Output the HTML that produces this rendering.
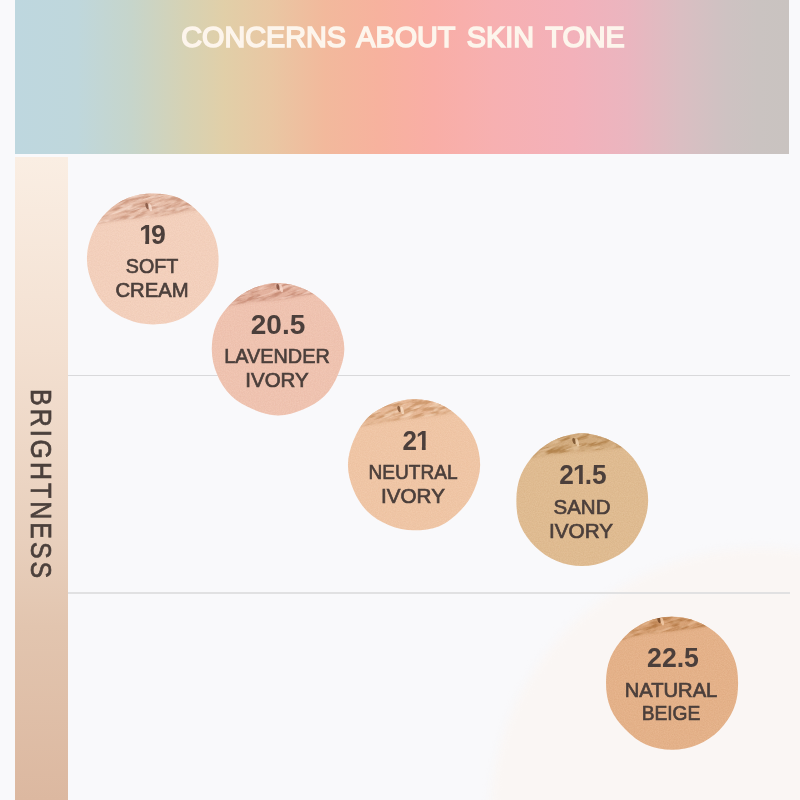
<!DOCTYPE html>
<html lang="en">
<head>
<meta charset="utf-8">
<title>Concerns about skin tone</title>
<style>
html,body{margin:0;padding:0;}
body{width:800px;height:800px;position:relative;overflow:hidden;background:#f9f9fb;font-family:"Liberation Sans",sans-serif;color:#4b3f3b;}
.blob{position:absolute;left:490px;top:548px;width:542px;height:542px;border-radius:50%;background:#faf6f4;filter:blur(4px);}
.banner{position:absolute;left:15px;top:0;width:774px;height:154px;
 background:linear-gradient(90deg,#bed7df 0%,#bfd7dc 8%,#c6d5cb 15%,#d6d2b4 22%,#e1cfa8 27%,#e9c7a3 33%,#f2b99c 40%,#f7b29e 47%,#f9aea6 54%,#f7b0b1 62%,#f3b1ba 72%,#ebb5bf 79%,#dabec2 86%,#cec2c2 92%,#cac3c1 96%,#c9c3c0 100%);}
.title{position:absolute;left:0.5px;top:22px;width:100%;text-align:center;font-size:30px;line-height:30px;font-weight:400;color:#fdf5ec;-webkit-text-stroke:1.6px #fdf5ec;word-spacing:4px;white-space:nowrap;transform:scaleX(0.96);}
.side{position:absolute;left:15px;top:157px;width:53px;height:643px;background:linear-gradient(180deg,#faeee3 0%,#f3e0d1 30%,#e8cfbc 60%,#e2c5af 73%,#dcb8a0 100%);}
.side span{position:absolute;display:block;left:40px;top:231.5px;font-size:29px;line-height:29px;letter-spacing:3.5px;white-space:nowrap;color:#4b403c;-webkit-text-stroke:0.7px #4b403c;transform-origin:0 0;transform:rotate(90deg) scaleX(0.86);}
.line{position:absolute;left:68px;width:722px;height:1px;background:#d9d9db;}
.sw{position:absolute;display:block;overflow:visible;}
.x{position:absolute;display:block;white-space:nowrap;text-align:center;transform-origin:50% 50%;}
.n{font-weight:700;font-size:27px;line-height:27px;}
.o{display:inline-block;font-weight:inherit;font-style:normal;margin:0 -3px 0 -1px;clip-path:polygon(0 0,100% 0,100% 69%,67% 69%,67% 100%,41% 100%,41% 69%,0 69%);}
.t{font-weight:400;font-size:19.5px;line-height:19.5px;-webkit-text-stroke:0.65px #4b3f3b;}
</style>
</head>
<body>
<div class="blob"></div>
<div class="banner"><div class="title">CONCERNS ABOUT SKIN TONE</div></div>
<div class="side"><span>BRIGHTNESS</span></div>
<div class="line" style="top:375px"></div>
<div class="line" style="top:592px;height:2px;background:#e1e1e2"></div>
<svg class="sw" style="left:78.0px;top:184.0px" width="150" height="150" viewBox="-75.0 -75.0 150 150" aria-hidden="true"><defs><clipPath id="cp1"><path d="M65.57 0.00C65.57 8.61 64.74 17.37 61.40 25.43C58.06 33.49 52.36 40.20 46.28 46.28C40.20 52.36 33.34 57.79 25.31 61.11C17.29 64.43 8.59 65.40 0.00 65.40C-8.59 65.40 -17.14 63.90 -25.10 60.60C-33.06 57.31 -40.85 53.20 -47.02 47.02C-53.20 40.85 -57.27 33.04 -60.56 25.09C-63.86 17.13 -66.07 8.68 -66.07 0.00C-66.07 -8.68 -64.15 -17.21 -60.84 -25.20C-57.53 -33.19 -52.67 -40.44 -46.56 -46.56C-40.44 -52.67 -33.21 -57.57 -25.22 -60.88C-17.22 -64.19 -8.61 -65.53 -0.00 -65.53C8.61 -65.53 17.33 -64.58 25.37 -61.25C33.41 -57.92 40.18 -52.32 46.25 -46.25C52.32 -40.18 57.29 -33.05 60.59 -25.10C63.88 -17.14 65.57 -8.61 65.57 0.00Z"/></clipPath><filter id="tx1" x="-90" y="-90" width="180" height="180" filterUnits="userSpaceOnUse" color-interpolation-filters="sRGB"><feTurbulence type="fractalNoise" baseFrequency="0.06 0.28" numOctaves="4" seed="5" result="n"/><feColorMatrix in="n" type="matrix" values="0 0 0 0 0  0 0 0 0 0  0 0 0 0 0  4.5 0 0 0 -1.85" result="a"/><feGaussianBlur in="SourceAlpha" stdDeviation="1.4" result="sa"/><feComposite in="SourceGraphic" in2="a" operator="in" result="c1"/><feComposite in="c1" in2="sa" operator="in"/></filter><filter id="tl1" x="-90" y="-90" width="180" height="180" filterUnits="userSpaceOnUse" color-interpolation-filters="sRGB"><feTurbulence type="fractalNoise" baseFrequency="0.06 0.35" numOctaves="3" seed="13" result="n"/><feColorMatrix in="n" type="matrix" values="0 0 0 0 0  0 0 0 0 0  0 0 0 0 0  0 4.5 0 0 -2.2" result="a"/><feGaussianBlur in="SourceAlpha" stdDeviation="1.2" result="sa"/><feComposite in="SourceGraphic" in2="a" operator="in" result="c1"/><feComposite in="c1" in2="sa" operator="in"/></filter><filter id="gd1" x="-80" y="-80" width="160" height="160" filterUnits="userSpaceOnUse" color-interpolation-filters="sRGB"><feTurbulence type="fractalNoise" baseFrequency="0.8" numOctaves="1" seed="36" result="n"/><feColorMatrix in="n" type="matrix" values="0 0 0 0 0  0 0 0 0 0  0 0 0 0 0  0 2.2 0 0 -0.85" result="a"/><feComposite in="SourceGraphic" in2="a" operator="in"/></filter><filter id="bl1" x="-90" y="-90" width="180" height="180" filterUnits="userSpaceOnUse"><feGaussianBlur stdDeviation="1.8"/></filter><filter id="gr1" x="-80" y="-80" width="160" height="160" filterUnits="userSpaceOnUse" color-interpolation-filters="sRGB"><feTurbulence type="fractalNoise" baseFrequency="0.9" numOctaves="1" seed="16" result="n"/><feColorMatrix in="n" type="matrix" values="0 0 0 0 0  0 0 0 0 0  0 0 0 0 0  2.2 0 0 0 -0.85" result="a"/><feComposite in="SourceGraphic" in2="a" operator="in"/></filter></defs><path d="M65.57 0.00C65.57 8.61 64.74 17.37 61.40 25.43C58.06 33.49 52.36 40.20 46.28 46.28C40.20 52.36 33.34 57.79 25.31 61.11C17.29 64.43 8.59 65.40 0.00 65.40C-8.59 65.40 -17.14 63.90 -25.10 60.60C-33.06 57.31 -40.85 53.20 -47.02 47.02C-53.20 40.85 -57.27 33.04 -60.56 25.09C-63.86 17.13 -66.07 8.68 -66.07 0.00C-66.07 -8.68 -64.15 -17.21 -60.84 -25.20C-57.53 -33.19 -52.67 -40.44 -46.56 -46.56C-40.44 -52.67 -33.21 -57.57 -25.22 -60.88C-17.22 -64.19 -8.61 -65.53 -0.00 -65.53C8.61 -65.53 17.33 -64.58 25.37 -61.25C33.41 -57.92 40.18 -52.32 46.25 -46.25C52.32 -40.18 57.29 -33.05 60.59 -25.10C63.88 -17.14 65.57 -8.61 65.57 0.00Z" fill="#f4d1bd"/><g clip-path="url(#cp1)"><rect x="-70" y="-70" width="140" height="140" fill="#fae3d6" opacity="0.22" filter="url(#gr1)"/><rect x="-70" y="-70" width="140" height="140" fill="#cf9c84" opacity="0.12" filter="url(#gd1)"/><path d="M-62.0 -32.0L-56.0 -35.0Q-30.0 -39.5 -15.0 -40.5Q0.0 -41.5 12.5 -43.5Q25.0 -45.5 35.5 -47.5L46.0 -49.5L52.0 -52.5L52.0 -71.0 L-62.0 -71.0 Z" fill="#cf9c84" opacity="0.3" filter="url(#bl1)"/><g transform="rotate(-18)" filter="url(#tx1)"><path transform="rotate(18)" d="M-62.0 -32.0L-56.0 -35.0Q-30.0 -39.5 -15.0 -40.5Q0.0 -41.5 12.5 -43.5Q25.0 -45.5 35.5 -47.5L46.0 -49.5L52.0 -52.5L52.0 -71.0 L-62.0 -71.0 Z" fill="#cf9c84"/></g><g transform="rotate(-18)" filter="url(#tl1)" opacity="0.60"><path transform="rotate(18)" d="M-62.0 -32.0L-56.0 -35.0Q-30.0 -39.5 -15.0 -40.5Q0.0 -41.5 12.5 -43.5Q25.0 -45.5 35.5 -47.5L46.0 -49.5L52.0 -52.5L52.0 -71.0 L-62.0 -71.0 Z" fill="#fae3d6"/></g><ellipse cx="-6.0" cy="-53.0" rx="1.5" ry="3.2" transform="rotate(-14 -6.0 -53.0)" fill="#7d4f3c" opacity="0.8"/><ellipse cx="-2.8" cy="-51.5" rx="1.5" ry="4" transform="rotate(-14 -2.8 -51.5)" fill="#fae3d6" opacity="0.75"/></g></svg>
<span class="x n" style="left:52.7px;top:221.8px;width:200px;transform:scaleX(0.987)"><b class="o">1</b>9</span>
<span class="x t" style="left:52.0px;top:256.5px;width:200px;transform:scaleX(1.008)">SOFT</span>
<span class="x t" style="left:51.8px;top:280.5px;width:200px;transform:scaleX(1.039)">CREAM</span>
<svg class="sw" style="left:202.7px;top:273.5px" width="150" height="150" viewBox="-75.0 -75.0 150 150" aria-hidden="true"><defs><clipPath id="cp2"><path d="M66.36 0.00C66.36 8.71 63.53 17.04 60.25 24.96C56.97 32.87 52.86 40.59 46.73 46.73C40.59 52.86 32.96 57.13 25.02 60.41C17.09 63.70 8.72 66.38 0.00 66.38C-8.72 66.38 -17.05 63.53 -24.96 60.26C-32.87 56.98 -40.70 53.00 -46.85 46.85C-53.00 40.70 -57.67 33.27 -60.99 25.26C-64.31 17.25 -66.23 8.70 -66.23 0.00C-66.23 -8.70 -64.68 -17.35 -61.35 -25.41C-58.01 -33.47 -52.39 -40.23 -46.31 -46.31C-40.23 -52.39 -33.07 -57.31 -25.11 -60.61C-17.15 -63.91 -8.67 -66.05 -0.00 -66.05C8.67 -66.05 17.13 -63.84 25.08 -60.55C33.03 -57.25 40.24 -52.41 46.33 -46.33C52.41 -40.24 57.20 -33.00 60.49 -25.06C63.78 -17.11 66.36 -8.71 66.36 0.00Z"/></clipPath><filter id="tx2" x="-90" y="-90" width="180" height="180" filterUnits="userSpaceOnUse" color-interpolation-filters="sRGB"><feTurbulence type="fractalNoise" baseFrequency="0.06 0.28" numOctaves="4" seed="8" result="n"/><feColorMatrix in="n" type="matrix" values="0 0 0 0 0  0 0 0 0 0  0 0 0 0 0  4.5 0 0 0 -1.85" result="a"/><feGaussianBlur in="SourceAlpha" stdDeviation="1.4" result="sa"/><feComposite in="SourceGraphic" in2="a" operator="in" result="c1"/><feComposite in="c1" in2="sa" operator="in"/></filter><filter id="tl2" x="-90" y="-90" width="180" height="180" filterUnits="userSpaceOnUse" color-interpolation-filters="sRGB"><feTurbulence type="fractalNoise" baseFrequency="0.06 0.35" numOctaves="3" seed="17" result="n"/><feColorMatrix in="n" type="matrix" values="0 0 0 0 0  0 0 0 0 0  0 0 0 0 0  0 4.5 0 0 -2.2" result="a"/><feGaussianBlur in="SourceAlpha" stdDeviation="1.2" result="sa"/><feComposite in="SourceGraphic" in2="a" operator="in" result="c1"/><feComposite in="c1" in2="sa" operator="in"/></filter><filter id="gd2" x="-80" y="-80" width="160" height="160" filterUnits="userSpaceOnUse" color-interpolation-filters="sRGB"><feTurbulence type="fractalNoise" baseFrequency="0.8" numOctaves="1" seed="41" result="n"/><feColorMatrix in="n" type="matrix" values="0 0 0 0 0  0 0 0 0 0  0 0 0 0 0  0 2.2 0 0 -0.85" result="a"/><feComposite in="SourceGraphic" in2="a" operator="in"/></filter><filter id="bl2" x="-90" y="-90" width="180" height="180" filterUnits="userSpaceOnUse"><feGaussianBlur stdDeviation="1.8"/></filter><filter id="gr2" x="-80" y="-80" width="160" height="160" filterUnits="userSpaceOnUse" color-interpolation-filters="sRGB"><feTurbulence type="fractalNoise" baseFrequency="0.9" numOctaves="1" seed="21" result="n"/><feColorMatrix in="n" type="matrix" values="0 0 0 0 0  0 0 0 0 0  0 0 0 0 0  2.2 0 0 0 -0.85" result="a"/><feComposite in="SourceGraphic" in2="a" operator="in"/></filter></defs><path d="M66.36 0.00C66.36 8.71 63.53 17.04 60.25 24.96C56.97 32.87 52.86 40.59 46.73 46.73C40.59 52.86 32.96 57.13 25.02 60.41C17.09 63.70 8.72 66.38 0.00 66.38C-8.72 66.38 -17.05 63.53 -24.96 60.26C-32.87 56.98 -40.70 53.00 -46.85 46.85C-53.00 40.70 -57.67 33.27 -60.99 25.26C-64.31 17.25 -66.23 8.70 -66.23 0.00C-66.23 -8.70 -64.68 -17.35 -61.35 -25.41C-58.01 -33.47 -52.39 -40.23 -46.31 -46.31C-40.23 -52.39 -33.07 -57.31 -25.11 -60.61C-17.15 -63.91 -8.67 -66.05 -0.00 -66.05C8.67 -66.05 17.13 -63.84 25.08 -60.55C33.03 -57.25 40.24 -52.41 46.33 -46.33C52.41 -40.24 57.20 -33.00 60.49 -25.06C63.78 -17.11 66.36 -8.71 66.36 0.00Z" fill="#f0c4b1"/><g clip-path="url(#cp2)"><rect x="-70" y="-70" width="140" height="140" fill="#f9dccf" opacity="0.22" filter="url(#gr2)"/><rect x="-70" y="-70" width="140" height="140" fill="#c98f79" opacity="0.12" filter="url(#gd2)"/><path d="M-54.0 -40.5L-48.0 -43.5Q-25.0 -47.5 -12.5 -48.0Q0.0 -48.5 10.0 -50.5Q20.0 -52.5 29.0 -54.0L38.0 -55.5L44.0 -58.5L44.0 -70.9 L-54.0 -70.9 Z" fill="#c98f79" opacity="0.3" filter="url(#bl2)"/><g transform="rotate(-18)" filter="url(#tx2)"><path transform="rotate(18)" d="M-54.0 -40.5L-48.0 -43.5Q-25.0 -47.5 -12.5 -48.0Q0.0 -48.5 10.0 -50.5Q20.0 -52.5 29.0 -54.0L38.0 -55.5L44.0 -58.5L44.0 -70.9 L-54.0 -70.9 Z" fill="#c98f79"/></g><g transform="rotate(-18)" filter="url(#tl2)" opacity="0.60"><path transform="rotate(18)" d="M-54.0 -40.5L-48.0 -43.5Q-25.0 -47.5 -12.5 -48.0Q0.0 -48.5 10.0 -50.5Q20.0 -52.5 29.0 -54.0L38.0 -55.5L44.0 -58.5L44.0 -70.9 L-54.0 -70.9 Z" fill="#f9dccf"/></g><ellipse cx="0.0" cy="-62.0" rx="1.5" ry="3.2" transform="rotate(-14 0.0 -62.0)" fill="#7d4a3a" opacity="0.8"/><ellipse cx="3.2" cy="-60.5" rx="1.5" ry="4" transform="rotate(-14 3.2 -60.5)" fill="#f9dccf" opacity="0.75"/></g></svg>
<span class="x n" style="left:178.0px;top:311.6px;width:200px;transform:scaleX(1.038)">20.5</span>
<span class="x t" style="left:176.7px;top:347.1px;width:200px;transform:scaleX(1.017)">LAVENDER</span>
<span class="x t" style="left:177.2px;top:371.1px;width:200px;transform:scaleX(1.051)">IVORY</span>
<svg class="sw" style="left:338.6px;top:389.7px" width="150" height="150" viewBox="-75.0 -75.0 150 150" aria-hidden="true"><defs><clipPath id="cp3"><path d="M66.15 0.00C66.15 8.69 63.48 17.03 60.21 24.94C56.93 32.85 52.02 39.94 45.98 45.98C39.94 52.02 33.36 57.83 25.33 61.16C17.30 64.49 8.56 65.22 0.00 65.22C-8.56 65.22 -17.03 63.46 -24.93 60.19C-32.83 56.91 -40.41 52.62 -46.51 46.51C-52.62 40.41 -57.15 32.97 -60.44 25.03C-63.72 17.10 -66.07 8.68 -66.07 0.00C-66.07 -8.68 -63.59 -17.06 -60.31 -24.98C-57.03 -32.90 -52.92 -40.63 -46.78 -46.78C-40.63 -52.92 -32.95 -57.12 -25.02 -60.41C-17.09 -63.69 -8.63 -65.72 -0.00 -65.72C8.63 -65.72 17.28 -64.41 25.30 -61.09C33.32 -57.76 40.43 -52.66 46.54 -46.54C52.66 -40.43 57.75 -33.32 61.08 -25.30C64.40 -17.28 66.15 -8.69 66.15 0.00Z"/></clipPath><filter id="tx3" x="-90" y="-90" width="180" height="180" filterUnits="userSpaceOnUse" color-interpolation-filters="sRGB"><feTurbulence type="fractalNoise" baseFrequency="0.06 0.28" numOctaves="4" seed="11" result="n"/><feColorMatrix in="n" type="matrix" values="0 0 0 0 0  0 0 0 0 0  0 0 0 0 0  4.5 0 0 0 -1.85" result="a"/><feGaussianBlur in="SourceAlpha" stdDeviation="1.4" result="sa"/><feComposite in="SourceGraphic" in2="a" operator="in" result="c1"/><feComposite in="c1" in2="sa" operator="in"/></filter><filter id="tl3" x="-90" y="-90" width="180" height="180" filterUnits="userSpaceOnUse" color-interpolation-filters="sRGB"><feTurbulence type="fractalNoise" baseFrequency="0.06 0.35" numOctaves="3" seed="21" result="n"/><feColorMatrix in="n" type="matrix" values="0 0 0 0 0  0 0 0 0 0  0 0 0 0 0  0 4.5 0 0 -2.2" result="a"/><feGaussianBlur in="SourceAlpha" stdDeviation="1.2" result="sa"/><feComposite in="SourceGraphic" in2="a" operator="in" result="c1"/><feComposite in="c1" in2="sa" operator="in"/></filter><filter id="gd3" x="-80" y="-80" width="160" height="160" filterUnits="userSpaceOnUse" color-interpolation-filters="sRGB"><feTurbulence type="fractalNoise" baseFrequency="0.8" numOctaves="1" seed="46" result="n"/><feColorMatrix in="n" type="matrix" values="0 0 0 0 0  0 0 0 0 0  0 0 0 0 0  0 2.2 0 0 -0.85" result="a"/><feComposite in="SourceGraphic" in2="a" operator="in"/></filter><filter id="bl3" x="-90" y="-90" width="180" height="180" filterUnits="userSpaceOnUse"><feGaussianBlur stdDeviation="1.8"/></filter><filter id="gr3" x="-80" y="-80" width="160" height="160" filterUnits="userSpaceOnUse" color-interpolation-filters="sRGB"><feTurbulence type="fractalNoise" baseFrequency="0.9" numOctaves="1" seed="26" result="n"/><feColorMatrix in="n" type="matrix" values="0 0 0 0 0  0 0 0 0 0  0 0 0 0 0  2.2 0 0 0 -0.85" result="a"/><feComposite in="SourceGraphic" in2="a" operator="in"/></filter></defs><path d="M66.15 0.00C66.15 8.69 63.48 17.03 60.21 24.94C56.93 32.85 52.02 39.94 45.98 45.98C39.94 52.02 33.36 57.83 25.33 61.16C17.30 64.49 8.56 65.22 0.00 65.22C-8.56 65.22 -17.03 63.46 -24.93 60.19C-32.83 56.91 -40.41 52.62 -46.51 46.51C-52.62 40.41 -57.15 32.97 -60.44 25.03C-63.72 17.10 -66.07 8.68 -66.07 0.00C-66.07 -8.68 -63.59 -17.06 -60.31 -24.98C-57.03 -32.90 -52.92 -40.63 -46.78 -46.78C-40.63 -52.92 -32.95 -57.12 -25.02 -60.41C-17.09 -63.69 -8.63 -65.72 -0.00 -65.72C8.63 -65.72 17.28 -64.41 25.30 -61.09C33.32 -57.76 40.43 -52.66 46.54 -46.54C52.66 -40.43 57.75 -33.32 61.08 -25.30C64.40 -17.28 66.15 -8.69 66.15 0.00Z" fill="#f0c6a6"/><g clip-path="url(#cp3)"><rect x="-70" y="-70" width="140" height="140" fill="#fae0c8" opacity="0.22" filter="url(#gr3)"/><rect x="-70" y="-70" width="140" height="140" fill="#cf9a6f" opacity="0.12" filter="url(#gd3)"/><path d="M-59.0 -35.5L-53.0 -38.5Q-28.0 -43.5 -14.0 -45.0Q0.0 -46.5 12.0 -48.0Q24.0 -49.5 33.0 -51.0L42.0 -52.5L48.0 -55.5L48.0 -70.7 L-59.0 -70.7 Z" fill="#cf9a6f" opacity="0.3" filter="url(#bl3)"/><g transform="rotate(-18)" filter="url(#tx3)"><path transform="rotate(18)" d="M-59.0 -35.5L-53.0 -38.5Q-28.0 -43.5 -14.0 -45.0Q0.0 -46.5 12.0 -48.0Q24.0 -49.5 33.0 -51.0L42.0 -52.5L48.0 -55.5L48.0 -70.7 L-59.0 -70.7 Z" fill="#cf9a6f"/></g><g transform="rotate(-18)" filter="url(#tl3)" opacity="0.60"><path transform="rotate(18)" d="M-59.0 -35.5L-53.0 -38.5Q-28.0 -43.5 -14.0 -45.0Q0.0 -46.5 12.0 -48.0Q24.0 -49.5 33.0 -51.0L42.0 -52.5L48.0 -55.5L48.0 -70.7 L-59.0 -70.7 Z" fill="#fae0c8"/></g><ellipse cx="-15.0" cy="-56.0" rx="1.5" ry="3.2" transform="rotate(-14 -15.0 -56.0)" fill="#7a4f30" opacity="0.8"/><ellipse cx="-11.8" cy="-54.5" rx="1.5" ry="4" transform="rotate(-14 -11.8 -54.5)" fill="#fae0c8" opacity="0.75"/></g></svg>
<span class="x n" style="left:314.8px;top:427.9px;width:200px;transform:scaleX(0.962)">2<b class="o">1</b></span>
<span class="x t" style="left:312.9px;top:462.6px;width:200px;transform:scaleX(0.978)">NEUTRAL</span>
<span class="x t" style="left:313.1px;top:487.1px;width:200px;transform:scaleX(1.058)">IVORY</span>
<svg class="sw" style="left:507.2px;top:424.8px" width="150" height="150" viewBox="-75.0 -75.0 150 150" aria-hidden="true"><defs><clipPath id="cp4"><path d="M66.16 0.00C66.16 8.69 64.21 17.23 60.90 25.22C57.58 33.22 53.21 40.86 47.03 47.03C40.86 53.21 33.19 57.52 25.20 60.83C17.21 64.14 8.68 66.11 0.00 66.11C-8.68 66.11 -17.23 64.21 -25.22 60.90C-33.22 57.58 -40.54 52.80 -46.67 46.67C-52.80 40.54 -58.24 33.60 -61.59 25.51C-64.94 17.42 -65.62 8.62 -65.62 0.00C-65.62 -8.62 -64.33 -17.26 -61.01 -25.27C-57.69 -33.28 -52.61 -40.40 -46.51 -46.51C-40.40 -52.61 -33.22 -57.59 -25.23 -60.90C-17.23 -64.21 -8.76 -66.70 -0.00 -66.70C8.76 -66.70 17.22 -64.19 25.22 -60.88C33.21 -57.57 40.68 -52.98 46.83 -46.83C52.98 -40.68 57.66 -33.27 60.98 -25.26C64.30 -17.25 66.16 -8.69 66.16 0.00Z"/></clipPath><filter id="tx4" x="-90" y="-90" width="180" height="180" filterUnits="userSpaceOnUse" color-interpolation-filters="sRGB"><feTurbulence type="fractalNoise" baseFrequency="0.06 0.28" numOctaves="4" seed="14" result="n"/><feColorMatrix in="n" type="matrix" values="0 0 0 0 0  0 0 0 0 0  0 0 0 0 0  4.5 0 0 0 -1.85" result="a"/><feGaussianBlur in="SourceAlpha" stdDeviation="1.4" result="sa"/><feComposite in="SourceGraphic" in2="a" operator="in" result="c1"/><feComposite in="c1" in2="sa" operator="in"/></filter><filter id="tl4" x="-90" y="-90" width="180" height="180" filterUnits="userSpaceOnUse" color-interpolation-filters="sRGB"><feTurbulence type="fractalNoise" baseFrequency="0.06 0.35" numOctaves="3" seed="25" result="n"/><feColorMatrix in="n" type="matrix" values="0 0 0 0 0  0 0 0 0 0  0 0 0 0 0  0 4.5 0 0 -2.2" result="a"/><feGaussianBlur in="SourceAlpha" stdDeviation="1.2" result="sa"/><feComposite in="SourceGraphic" in2="a" operator="in" result="c1"/><feComposite in="c1" in2="sa" operator="in"/></filter><filter id="gd4" x="-80" y="-80" width="160" height="160" filterUnits="userSpaceOnUse" color-interpolation-filters="sRGB"><feTurbulence type="fractalNoise" baseFrequency="0.8" numOctaves="1" seed="51" result="n"/><feColorMatrix in="n" type="matrix" values="0 0 0 0 0  0 0 0 0 0  0 0 0 0 0  0 2.2 0 0 -0.85" result="a"/><feComposite in="SourceGraphic" in2="a" operator="in"/></filter><filter id="bl4" x="-90" y="-90" width="180" height="180" filterUnits="userSpaceOnUse"><feGaussianBlur stdDeviation="1.8"/></filter><filter id="gr4" x="-80" y="-80" width="160" height="160" filterUnits="userSpaceOnUse" color-interpolation-filters="sRGB"><feTurbulence type="fractalNoise" baseFrequency="0.9" numOctaves="1" seed="31" result="n"/><feColorMatrix in="n" type="matrix" values="0 0 0 0 0  0 0 0 0 0  0 0 0 0 0  2.2 0 0 0 -0.85" result="a"/><feComposite in="SourceGraphic" in2="a" operator="in"/></filter></defs><path d="M66.16 0.00C66.16 8.69 64.21 17.23 60.90 25.22C57.58 33.22 53.21 40.86 47.03 47.03C40.86 53.21 33.19 57.52 25.20 60.83C17.21 64.14 8.68 66.11 0.00 66.11C-8.68 66.11 -17.23 64.21 -25.22 60.90C-33.22 57.58 -40.54 52.80 -46.67 46.67C-52.80 40.54 -58.24 33.60 -61.59 25.51C-64.94 17.42 -65.62 8.62 -65.62 0.00C-65.62 -8.62 -64.33 -17.26 -61.01 -25.27C-57.69 -33.28 -52.61 -40.40 -46.51 -46.51C-40.40 -52.61 -33.22 -57.59 -25.23 -60.90C-17.23 -64.21 -8.76 -66.70 -0.00 -66.70C8.76 -66.70 17.22 -64.19 25.22 -60.88C33.21 -57.57 40.68 -52.98 46.83 -46.83C52.98 -40.68 57.66 -33.27 60.98 -25.26C64.30 -17.25 66.16 -8.69 66.16 0.00Z" fill="#e0bc92"/><g clip-path="url(#cp4)"><rect x="-70" y="-70" width="140" height="140" fill="#f1d6b4" opacity="0.22" filter="url(#gr4)"/><rect x="-70" y="-70" width="140" height="140" fill="#b4854f" opacity="0.12" filter="url(#gd4)"/><path d="M-56.0 -39.5L-50.0 -42.5Q-26.0 -46.5 -13.0 -47.5Q0.0 -48.5 11.0 -49.5Q22.0 -50.5 31.0 -51.5L40.0 -52.5L46.0 -55.5L46.0 -71.2 L-56.0 -71.2 Z" fill="#b4854f" opacity="0.3" filter="url(#bl4)"/><g transform="rotate(-18)" filter="url(#tx4)"><path transform="rotate(18)" d="M-56.0 -39.5L-50.0 -42.5Q-26.0 -46.5 -13.0 -47.5Q0.0 -48.5 11.0 -49.5Q22.0 -50.5 31.0 -51.5L40.0 -52.5L46.0 -55.5L46.0 -71.2 L-56.0 -71.2 Z" fill="#b4854f"/></g><g transform="rotate(-18)" filter="url(#tl4)" opacity="0.40"><path transform="rotate(18)" d="M-56.0 -39.5L-50.0 -42.5Q-26.0 -46.5 -13.0 -47.5Q0.0 -48.5 11.0 -49.5Q22.0 -50.5 31.0 -51.5L40.0 -52.5L46.0 -55.5L46.0 -71.2 L-56.0 -71.2 Z" fill="#f1d6b4"/></g><ellipse cx="-8.0" cy="-59.0" rx="1.5" ry="3.2" transform="rotate(-14 -8.0 -59.0)" fill="#6f4a28" opacity="0.8"/><ellipse cx="-4.8" cy="-57.5" rx="1.5" ry="4" transform="rotate(-14 -4.8 -57.5)" fill="#f1d6b4" opacity="0.75"/></g></svg>
<span class="x n" style="left:483.1px;top:462.2px;width:200px;transform:scaleX(0.973)">2<b class="o">1</b>.5</span>
<span class="x t" style="left:481.5px;top:497.6px;width:200px;transform:scaleX(1.051)">SAND</span>
<span class="x t" style="left:480.9px;top:522.1px;width:200px;transform:scaleX(1.062)">IVORY</span>
<svg class="sw" style="left:596.7px;top:607.7px" width="150" height="150" viewBox="-75.0 -75.0 150 150" aria-hidden="true"><defs><clipPath id="cp5"><path d="M66.09 0.00C66.09 8.68 65.15 17.48 61.79 25.59C58.43 33.71 53.48 41.06 47.27 47.27C41.06 53.48 33.67 58.36 25.56 61.72C17.46 65.07 8.75 66.65 0.00 66.65C-8.75 66.65 -17.45 65.02 -25.54 61.67C-33.64 58.31 -40.36 52.56 -46.46 46.46C-52.56 40.36 -58.05 33.49 -61.39 25.43C-64.73 17.37 -66.00 8.67 -66.00 0.00C-66.00 -8.67 -64.85 -17.40 -61.51 -25.48C-58.16 -33.56 -52.97 -40.67 -46.82 -46.82C-40.67 -52.97 -33.45 -57.98 -25.40 -61.32C-17.35 -64.66 -8.71 -66.35 -0.00 -66.35C8.71 -66.35 17.35 -64.67 25.41 -61.34C33.46 -58.00 40.97 -53.35 47.16 -47.16C53.35 -40.97 58.43 -33.71 61.79 -25.59C65.15 -17.48 66.09 -8.68 66.09 0.00Z"/></clipPath><filter id="tx5" x="-90" y="-90" width="180" height="180" filterUnits="userSpaceOnUse" color-interpolation-filters="sRGB"><feTurbulence type="fractalNoise" baseFrequency="0.06 0.28" numOctaves="4" seed="17" result="n"/><feColorMatrix in="n" type="matrix" values="0 0 0 0 0  0 0 0 0 0  0 0 0 0 0  4.5 0 0 0 -1.85" result="a"/><feGaussianBlur in="SourceAlpha" stdDeviation="1.4" result="sa"/><feComposite in="SourceGraphic" in2="a" operator="in" result="c1"/><feComposite in="c1" in2="sa" operator="in"/></filter><filter id="tl5" x="-90" y="-90" width="180" height="180" filterUnits="userSpaceOnUse" color-interpolation-filters="sRGB"><feTurbulence type="fractalNoise" baseFrequency="0.06 0.35" numOctaves="3" seed="29" result="n"/><feColorMatrix in="n" type="matrix" values="0 0 0 0 0  0 0 0 0 0  0 0 0 0 0  0 4.5 0 0 -2.2" result="a"/><feGaussianBlur in="SourceAlpha" stdDeviation="1.2" result="sa"/><feComposite in="SourceGraphic" in2="a" operator="in" result="c1"/><feComposite in="c1" in2="sa" operator="in"/></filter><filter id="gd5" x="-80" y="-80" width="160" height="160" filterUnits="userSpaceOnUse" color-interpolation-filters="sRGB"><feTurbulence type="fractalNoise" baseFrequency="0.8" numOctaves="1" seed="56" result="n"/><feColorMatrix in="n" type="matrix" values="0 0 0 0 0  0 0 0 0 0  0 0 0 0 0  0 2.2 0 0 -0.85" result="a"/><feComposite in="SourceGraphic" in2="a" operator="in"/></filter><filter id="bl5" x="-90" y="-90" width="180" height="180" filterUnits="userSpaceOnUse"><feGaussianBlur stdDeviation="1.8"/></filter><filter id="gr5" x="-80" y="-80" width="160" height="160" filterUnits="userSpaceOnUse" color-interpolation-filters="sRGB"><feTurbulence type="fractalNoise" baseFrequency="0.9" numOctaves="1" seed="36" result="n"/><feColorMatrix in="n" type="matrix" values="0 0 0 0 0  0 0 0 0 0  0 0 0 0 0  2.2 0 0 0 -0.85" result="a"/><feComposite in="SourceGraphic" in2="a" operator="in"/></filter></defs><path d="M66.09 0.00C66.09 8.68 65.15 17.48 61.79 25.59C58.43 33.71 53.48 41.06 47.27 47.27C41.06 53.48 33.67 58.36 25.56 61.72C17.46 65.07 8.75 66.65 0.00 66.65C-8.75 66.65 -17.45 65.02 -25.54 61.67C-33.64 58.31 -40.36 52.56 -46.46 46.46C-52.56 40.36 -58.05 33.49 -61.39 25.43C-64.73 17.37 -66.00 8.67 -66.00 0.00C-66.00 -8.67 -64.85 -17.40 -61.51 -25.48C-58.16 -33.56 -52.97 -40.67 -46.82 -46.82C-40.67 -52.97 -33.45 -57.98 -25.40 -61.32C-17.35 -64.66 -8.71 -66.35 -0.00 -66.35C8.71 -66.35 17.35 -64.67 25.41 -61.34C33.46 -58.00 40.97 -53.35 47.16 -47.16C53.35 -40.97 58.43 -33.71 61.79 -25.59C65.15 -17.48 66.09 -8.68 66.09 0.00Z" fill="#e5b28a"/><g clip-path="url(#cp5)"><rect x="-70" y="-70" width="140" height="140" fill="#f6d2b0" opacity="0.22" filter="url(#gr5)"/><rect x="-70" y="-70" width="140" height="140" fill="#b87d4a" opacity="0.12" filter="url(#gd5)"/><path d="M-50.0 -42.5L-44.0 -45.5Q-25.0 -49.5 -12.5 -50.5Q0.0 -51.5 10.0 -53.0Q20.0 -54.5 28.0 -55.5L36.0 -56.5L42.0 -59.5L42.0 -71.4 L-50.0 -71.4 Z" fill="#b87d4a" opacity="0.3" filter="url(#bl5)"/><g transform="rotate(-18)" filter="url(#tx5)"><path transform="rotate(18)" d="M-50.0 -42.5L-44.0 -45.5Q-25.0 -49.5 -12.5 -50.5Q0.0 -51.5 10.0 -53.0Q20.0 -54.5 28.0 -55.5L36.0 -56.5L42.0 -59.5L42.0 -71.4 L-50.0 -71.4 Z" fill="#b87d4a"/></g><g transform="rotate(-18)" filter="url(#tl5)" opacity="0.40"><path transform="rotate(18)" d="M-50.0 -42.5L-44.0 -45.5Q-25.0 -49.5 -12.5 -50.5Q0.0 -51.5 10.0 -53.0Q20.0 -54.5 28.0 -55.5L36.0 -56.5L42.0 -59.5L42.0 -71.4 L-50.0 -71.4 Z" fill="#f6d2b0"/></g><ellipse cx="-13.0" cy="-63.0" rx="1.5" ry="3.2" transform="rotate(-14 -13.0 -63.0)" fill="#6b4022" opacity="0.8"/><ellipse cx="-9.8" cy="-61.5" rx="1.5" ry="4" transform="rotate(-14 -9.8 -61.5)" fill="#f6d2b0" opacity="0.75"/></g></svg>
<span class="x n" style="left:572.7px;top:645.4px;width:200px;transform:scaleX(0.987)">22.5</span>
<span class="x t" style="left:571.1px;top:680.6px;width:200px;transform:scaleX(1.034)">NATURAL</span>
<span class="x t" style="left:571.0px;top:704.3px;width:200px;transform:scaleX(0.984)">BEIGE</span>
</body>
</html>
